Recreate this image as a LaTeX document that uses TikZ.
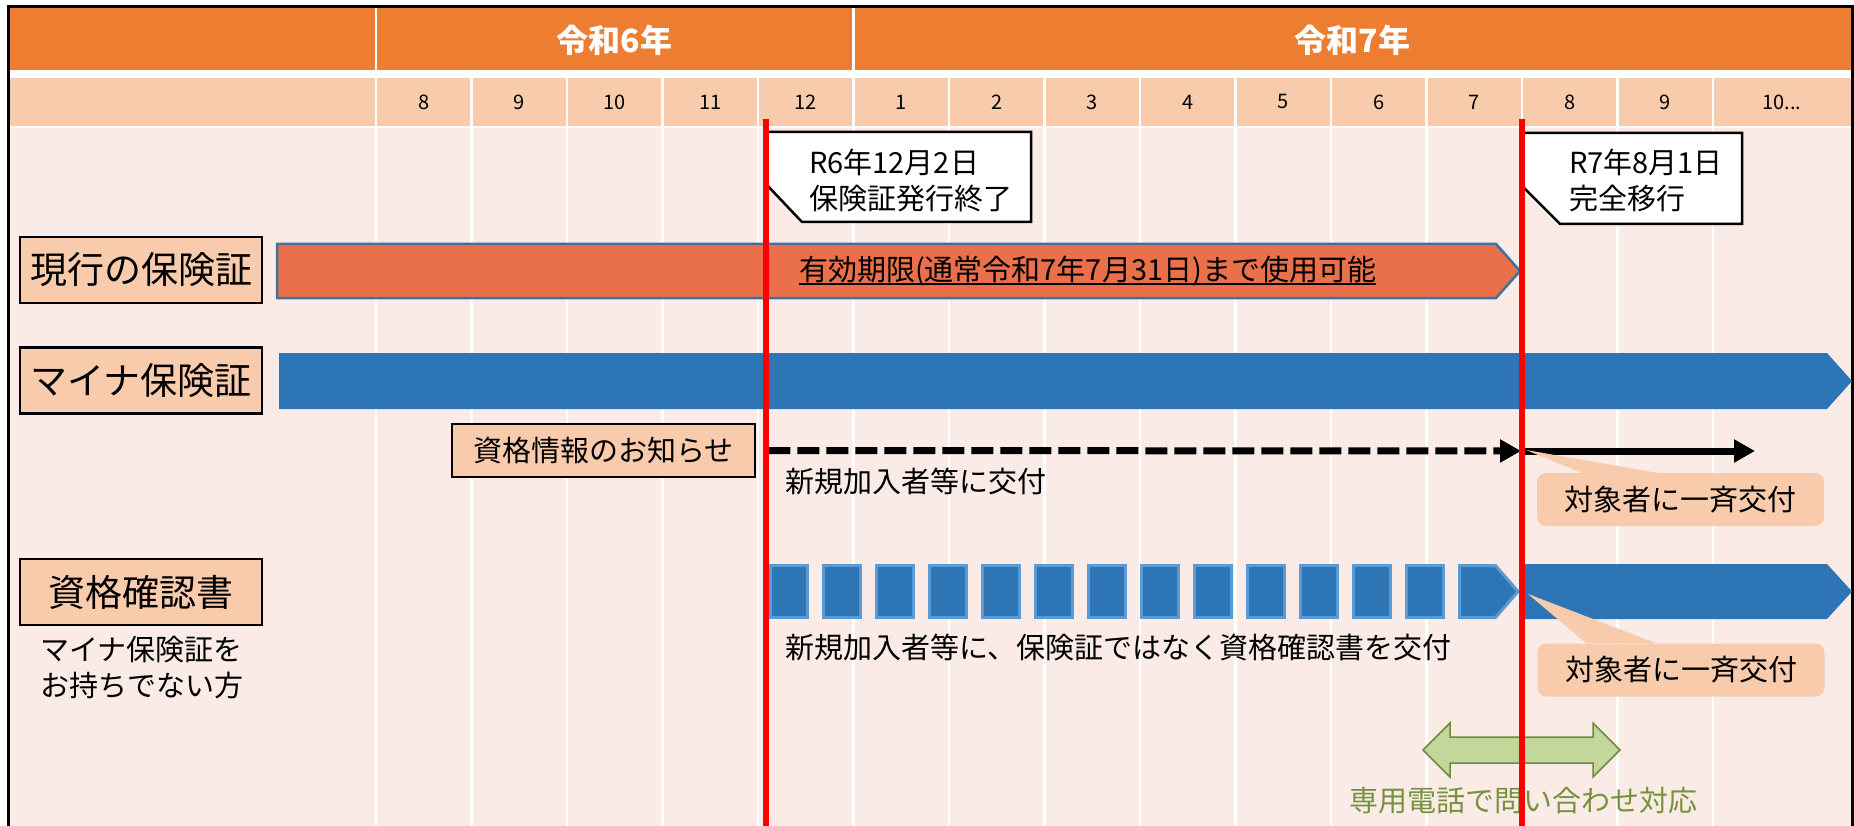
\documentclass[tikz,border=0pt]{standalone}
\usepackage{fontspec}
\setmainfont{Noto Sans CJK JP}
\usetikzlibrary{arrows.meta,positioning}

\definecolor{headorange}{HTML}{ED7D31}
\definecolor{monthrow}{HTML}{F8CBAD}
\definecolor{bodypink}{HTML}{FBEBE6}
\definecolor{cardorange}{HTML}{E9704B}
\definecolor{cardedge}{HTML}{41719C}
\definecolor{mynablue}{HTML}{2E75B6}
\definecolor{blockedge}{HTML}{5B9BD5}
\definecolor{phonegreen}{HTML}{C4D79B}
\definecolor{phoneedge}{HTML}{6E8B3D}
\definecolor{phonetext}{HTML}{76923C}

\newcommand{\pxsize}[1]{\fontsize{#1pt}{#1pt}\selectfont}
\newcommand{\undl}[1]{\setbox0=\hbox{#1}\rlap{\rule[-5pt]{\wd0}{2pt}}\box0}

\tikzset{
  yeartext/.style={text=white, font=\pxsize{32}\bfseries, inner sep=0pt},
  monthnum/.style={font=\pxsize{20}, inner sep=0pt},
  gridline/.style={white, line width=2.5pt},
  rowlabel/.style={draw, line width=2.5pt, fill=monthrow, minimum width=242pt,
    minimum height=66pt, inner sep=0pt, font=\pxsize{37}},
  infobox/.style={draw, line width=2.5pt, fill=monthrow, minimum width=303pt,
    minimum height=53pt, inner sep=0pt, font=\pxsize{29}},
  plain/.style={font=\fontsize{29pt}{36pt}\selectfont, inner sep=0pt, align=left},
  notebox/.style={draw, line width=2.5pt, fill=white, line join=miter},
  giftnote/.style={fill=monthrow, rounded corners=9pt, minimum width=287pt,
    minimum height=53pt, inner sep=0pt, font=\pxsize{29}},
  block/.style={fill=mynablue, draw=blockedge, line width=3pt},
  redline/.style={red, line width=6pt},
  dasharrow/.style={line width=7pt, dash pattern=on 22pt off 7pt,
    -{Triangle[length=21pt,width=22pt]}},
  solidarrow/.style={line width=7pt, -{Triangle[length=21pt,width=22pt]}}
}

\begin{document}
\begin{tikzpicture}[x=1pt, y=-1pt]
  \useasboundingbox (0,0) rectangle (1854,826);

  % Background bands
  \fill[headorange] (9.5,8) rectangle (1850.5,70);
  \fill[monthrow] (9.5,78) rectangle (1850.5,126);
  \fill[bodypink] (9.5,128) rectangle (1850.5,826);
  \draw[line width=3pt] (8,830) -- (8,6.5) -- (1852,6.5) -- (1852,830);

  % Grid
  \draw[gridline] (376,8) -- (376,826);
  \draw[gridline] (853.5,8) -- (853.5,826);
  \foreach \k in {1,...,14}
    \draw[gridline] (376+95.5*\k,78) -- (376+95.5*\k,826);

  % Years and months
  \node[yeartext] (r6) at (614.5,40) {令和6年};
  \node[yeartext] (r7) at (1352.5,40) {令和7年};
  \foreach \m [count=\i from 0] in {8,9,10,11,12,1,2,3,4,5,6,7,8,9}
    \node[monthnum] (m\i) at (423.75+95.5*\i,102) {\m};
  \node[monthnum] (m14) at (1782,102) {10...};

  % Row labels
  \node[rowlabel] (current) at (141,270) {現行の保険証};
  \node[rowlabel] (myna) at (141,380.5) {マイナ保険証};
  \node[rowlabel] (shikaku) at (141,592) {資格確認書};
  \node[plain, anchor=west] (nocard) at (40,668) {マイナ保険証を\\お持ちでない方};

  % Current card bar
  \draw[fill=cardorange, draw=cardedge, line width=2.5pt]
    (277,244) -- (1496,244) -- (1520,271) -- (1496,298) -- (277,298) -- cycle;
  \node[plain] (valid) at (1087.5,271) {\undl{有効期限(通常令和7年7月31日)まで使用可能}};

  % Myna card bar
  \fill[mynablue] (279,353) -- (1827,353) -- (1852,381) -- (1827,409) -- (279,409) -- cycle;

  % Notice
  \node[infobox] (info) at (603.5,450.5) {資格情報のお知らせ};
  \coordinate (aug) at (1521,451);
  \coordinate (allgive) at (1755,451);
  \draw[dasharrow] ([xshift=12pt]info.east) -- (aug);
  \draw[solidarrow] (aug) -- (allgive);
  \node[plain, anchor=west] (newA) at (785,481) {新規加入者等に交付};

  % Certificate bar
  \foreach \i in {0,...,12}
    \draw[block] (770.5+53*\i,565.5) rectangle ++(37,52);
  \draw[block] (1459.5,565.5) -- (1495.5,565.5) -- (1518,591.5) -- (1495.5,617.5)
    -- (1459.5,617.5) -- cycle;
  \fill[mynablue] (1523,564) -- (1827,564) -- (1852,591.5) -- (1827,619) -- (1523,619) -- cycle;
  \node[plain, anchor=west] (newB) at (785,647) {新規加入者等に、保険証ではなく資格確認書を交付};

  % Gift notes
  \coordinate (tipA) at (1526,450);
  \node[giftnote] (giftA) at (1680.5,499.5) {対象者に一斉交付};
  \fill[monthrow] (tipA) -- ([xshift=45pt]giftA.north west) -- ([xshift=120pt]giftA.north west) -- cycle;
  \coordinate (tipB) at (1528,594);
  \node[giftnote] (giftB) at (1681,670) {対象者に一斉交付};
  \fill[monthrow] (tipB) -- ([xshift=49pt]giftB.north west) -- ([xshift=119pt]giftB.north west) -- cycle;

  % Phone support
  \draw[fill=phonegreen, draw=phoneedge, line width=1.5pt]
    (1423,750) -- (1450,723) -- (1450,737) -- (1593,737) -- (1593,723) -- (1620,750)
    -- (1593,777) -- (1593,763) -- (1450,763) -- (1450,777) -- cycle;
  \node[plain, text=phonetext] (phone) at (1523,801) {専用電話で問い合わせ対応};

  % Date notes
  \draw[notebox] (765,132) -- (1031,132) -- (1031,222) -- (802,222) -- (765,183) -- cycle;
  \node[plain, anchor=west] (dec2) at (809,180) {R6年12月2日\\保険証発行終了};
  \draw[notebox] (1523,133) -- (1742,133) -- (1742,224) -- (1560,224) -- (1523,187) -- cycle;
  \node[plain, anchor=west] (aug1) at (1569,180) {R7年8月1日\\完全移行};

  % Red date lines
  \draw[redline] (765.5,119) -- (765.5,826);
  \draw[redline] (1521.5,119) -- (1521.5,826);

\end{tikzpicture}
\end{document}
